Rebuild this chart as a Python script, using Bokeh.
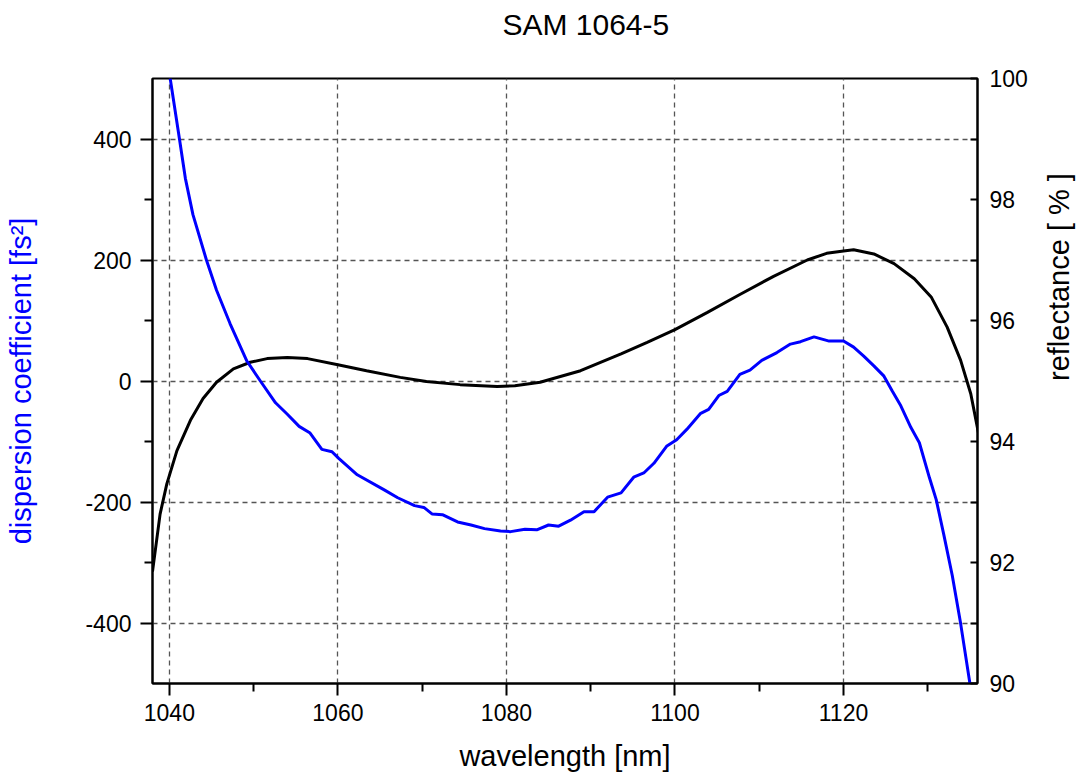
import math
from bokeh.plotting import figure
from bokeh.models import Range1d, LinearAxis, FixedTicker, PrintfTickFormatter
from bokeh.embed import file_html
from bokeh.resources import INLINE

title_text = "SAM 1064-5"
x_label = "wavelength [nm]"
left_label = "dispersion coefficient [fs²]"
right_label = "reflectance [ % ]"

x_ticks = [1040, 1060, 1080, 1100, 1120]
x_minor = [1050, 1070, 1090, 1110, 1130]
left_ticks = [-400, -200, 0, 200, 400]
left_minor = [-300, -100, 100, 300]
right_ticks = [90, 92, 94, 96, 98, 100]
right_minor = [91, 93, 95, 97, 99]

# dispersion coefficient (blue, left axis)
wl_disp = [1040.1, 1041.2, 1041.9, 1042.8, 1044.4, 1045.6, 1047.2, 1049.2, 1050.8, 1052.6,
           1054.0, 1055.4, 1056.7, 1058.1, 1059.3, 1060.1, 1062.3, 1065.5, 1067.1, 1069.1,
           1070.2, 1071.2, 1072.4, 1074.2, 1075.8, 1077.4, 1079.3, 1080.5, 1082.2, 1083.6,
           1085.0, 1086.2, 1087.6, 1089.2, 1090.4, 1092.0, 1093.6, 1095.1, 1096.3, 1097.5,
           1099.0, 1100.2, 1101.4, 1103.0, 1104.0, 1105.2, 1106.2, 1107.7, 1108.9, 1110.3,
           1112.1, 1113.7, 1114.9, 1116.5, 1118.3, 1120.0, 1121.2, 1122.4, 1123.6, 1124.8,
           1125.8, 1126.8, 1128.0, 1129.0, 1130.2, 1131.0, 1131.9, 1132.9, 1133.9, 1135.0]
dispersion = [500, 400, 335, 275, 200, 150, 95, 33, 0, -36,
              -55, -75, -86, -113, -117, -128, -155, -180, -193, -206,
              -209, -220, -221, -233, -238, -244, -248, -249, -245, -246,
              -238, -240, -230, -216, -216, -192, -185, -159, -152, -136,
              -108, -97, -80, -54, -47, -24, -17, 11, 18, 34,
              47, 61, 65, 73, 66, 66, 56, 41, 25, 8,
              -17, -41, -77, -102, -160, -196, -254, -321, -401, -500]

# reflectance (black, right axis)
wl_refl = [1038.0, 1038.9, 1039.7, 1040.9, 1042.5, 1044.0, 1045.6, 1047.6, 1049.6, 1051.6,
           1054.0, 1056.4, 1060.0, 1063.4, 1067.4, 1070.5, 1074.5, 1078.9, 1081.0, 1084.0,
           1088.8, 1093.6, 1096.7, 1100.0, 1103.8, 1107.7, 1111.7, 1115.7, 1118.0, 1120.0,
           1121.2, 1123.6, 1126.0, 1128.4, 1130.4, 1132.3, 1133.9, 1135.1, 1136.0]
reflectance = [91.85, 92.80, 93.30, 93.85, 94.35, 94.71, 94.98, 95.20, 95.31, 95.37,
               95.39, 95.37, 95.27, 95.17, 95.06, 94.99, 94.94, 94.91, 94.92, 94.98,
               95.17, 95.45, 95.64, 95.85, 96.13, 96.43, 96.73, 97.00, 97.11, 97.15,
               97.17, 97.10, 96.94, 96.69, 96.39, 95.89, 95.34, 94.79, 94.15]

FONT = "Liberation Sans"

p = figure(frame_width=825, frame_height=605,
           x_range=Range1d(1038, 1135.9), y_range=Range1d(-500, 500),
           output_backend="svg", toolbar_location=None,
           min_border_left=152, min_border_top=78, min_border_right=100, min_border_bottom=90,
           background_fill_color="white", border_fill_color="white")
p.extra_y_ranges = {"refl": Range1d(90, 100)}

p.outline_line_color = "black"
p.outline_line_width = 2
p.outline_line_alpha = 1.0

# grid
for g, ticks in ((p.xgrid, x_ticks), (p.ygrid, left_ticks)):
    g.ticker = FixedTicker(ticks=ticks)
    g.grid_line_color = "#555555"
    g.grid_line_dash = "5 4"
    g.grid_line_width = 1.3

# x axis
xa = p.xaxis[0]
xa.ticker = FixedTicker(ticks=x_ticks, minor_ticks=x_minor)
xa.axis_label = x_label
# left axis
ya = p.yaxis[0]
ya.ticker = FixedTicker(ticks=left_ticks, minor_ticks=left_minor)
ya.formatter = PrintfTickFormatter(format="%d")
ya.axis_label = left_label

ra = LinearAxis(y_range_name="refl", ticker=FixedTicker(ticks=right_ticks, minor_ticks=right_minor),
                axis_label=right_label)
p.add_layout(ra, "right")

for ax in (xa, ya, ra):
    ax.axis_line_color = "black"
    ax.axis_line_width = 2
    ax.major_tick_line_color = "black"
    ax.major_tick_line_width = 2
    ax.minor_tick_line_color = "black"
    ax.minor_tick_line_width = 2
    ax.major_label_text_font = FONT
    ax.major_label_text_color = "black"
    ax.major_label_text_font_size = "23px"
    ax.axis_label_text_font = FONT
    ax.axis_label_text_font_style = "normal"
    ax.axis_label_text_font_size = "29px"
    ax.axis_label_text_color = "black"

ya.axis_label_text_color = "#0000ff"

xa.major_tick_out = 12
xa.major_tick_in = 0
xa.minor_tick_out = 8
xa.minor_tick_in = 0
xa.major_label_standoff = 8
xa.axis_label_standoff = 16
xa.axis_label_text_font_size = "29px"

ya.major_tick_out = 12
ya.major_tick_in = 0
ya.minor_tick_out = 8
ya.minor_tick_in = 0
ya.major_label_standoff = 9
ya.axis_label_standoff = 45

ra.major_tick_out = 0
ra.major_tick_in = 7
ra.minor_tick_out = 0
ra.minor_tick_in = 7
ra.major_label_standoff = 12
ra.axis_label_standoff = 28
ra.axis_label_orientation = math.pi / 2

# invisible top axis carrying the chart title (nbsp padding shifts it right of centre)
ta = LinearAxis(ticker=FixedTicker(ticks=[]), axis_label="\u00a0" * 5 + title_text)
ta.axis_line_color = None
ta.major_tick_line_color = None
ta.minor_tick_line_color = None
ta.major_tick_out = 0
ta.minor_tick_out = 0
ta.major_label_text_font_size = "0px"
ta.axis_label_text_font = FONT
ta.axis_label_text_font_size = "30px"
ta.axis_label_text_font_style = "normal"
ta.axis_label_text_color = "black"
ta.axis_label_standoff = 38
p.add_layout(ta, "above")

p.line(wl_refl, reflectance, y_range_name="refl", line_color="black", line_width=3)
p.line(wl_disp, dispersion, line_color="#0000ff", line_width=3)

p.title.text = ""

open("out.html", "w").write(file_html(p, INLINE))
